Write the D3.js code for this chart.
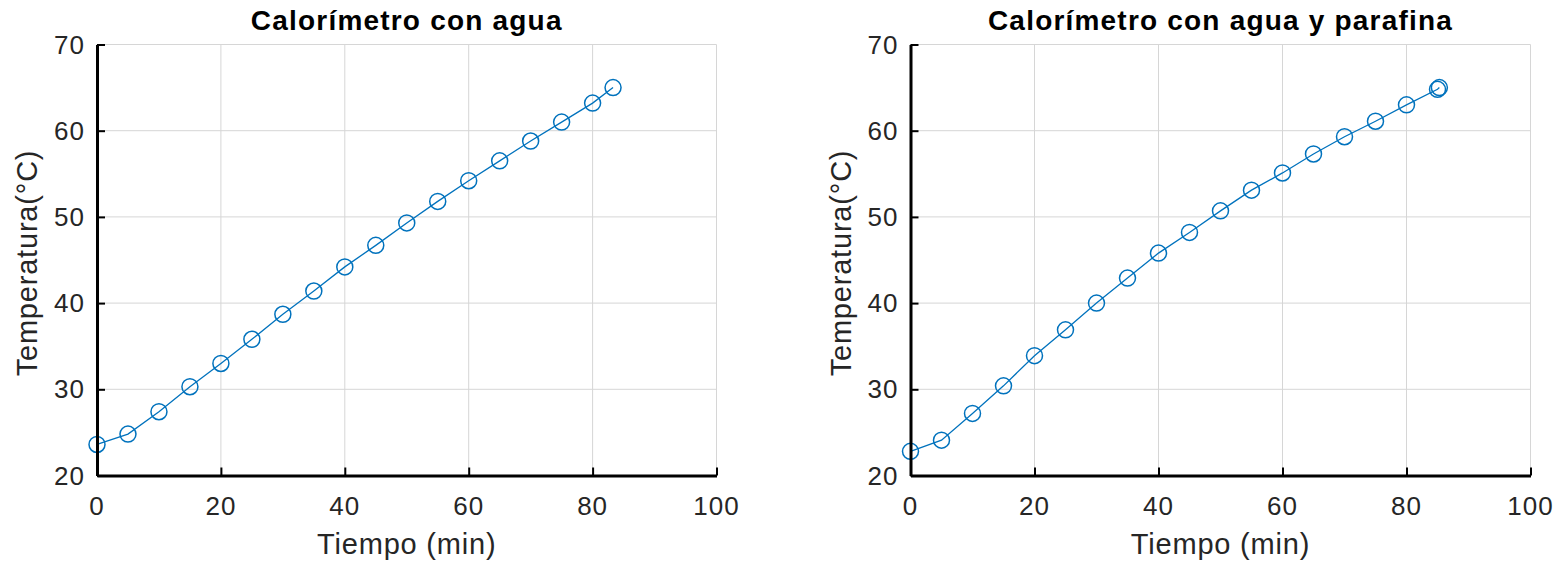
<!DOCTYPE html>
<html>
<head>
<meta charset="utf-8">
<script src="https://cdn.jsdelivr.net/npm/d3@7"></script>
<style>
  body { margin: 0; background: #fff; }
  svg { display: block; font-family: "Liberation Sans", Arial, Helvetica, sans-serif; }
  .grid line { stroke: #d6d6d6; stroke-width: 1; }
  .tick-label { fill: #262626; font-size: 26px; letter-spacing: 1px; }
  .axis-label { fill: #262626; font-size: 29px; letter-spacing: 0.8px; }
  .title { fill: #000; font-size: 28px; font-weight: bold; letter-spacing: 1.2px; }
</style>
</head>
<body>
<svg id="chart" width="1561" height="563"></svg>
<script>
// Datos
const xTicks = [0, 20, 40, 60, 80, 100];
const yTicks = [20, 30, 40, 50, 60, 70];

const tiempoAgua = [0, 5, 10, 15, 20, 25, 30, 35, 40, 45, 50, 55, 60, 65, 70, 75, 80, 83.3];
const tempAgua = [23.6, 24.8, 27.4, 30.3, 33.0, 35.8, 38.7, 41.4, 44.2, 46.7, 49.3, 51.8, 54.2, 56.5, 58.8, 61.0, 63.2, 65.0];

const tiempoParafina = [0, 5, 10, 15, 20, 25, 30, 35, 40, 45, 50, 55, 60, 65, 70, 75, 80, 85, 85.3];
const tempParafina = [22.8, 24.1, 27.2, 30.4, 33.9, 36.9, 40.0, 42.9, 45.8, 48.2, 50.7, 53.1, 55.1, 57.3, 59.3, 61.1, 63.0, 64.8, 65.0];

const panels = [
    { title: 'Calorímetro con agua', x: tiempoAgua, y: tempAgua, left: 97, right: 716.5 },
    { title: 'Calorímetro con agua y parafina', x: tiempoParafina, y: tempParafina, left: 910.5, right: 1530.5 }
];

const plotTop = 44.5, plotBottom = 475.5;
const color = '#0072BD';
const svg = d3.select('#chart');

panels.forEach(p => drawPanel(p));

function drawPanel(p) {
    const x = d3.scaleLinear().domain([0, 100]).range([p.left, p.right]);
    const y = d3.scaleLinear().domain([20, 70]).range([plotBottom, plotTop]);
    const g = svg.append('g');

    // Rejilla
    const grid = g.append('g').attr('class', 'grid');
    grid.selectAll('.gx').data(xTicks).enter().append('line')
        .attr('x1', d => x(d)).attr('x2', d => x(d))
        .attr('y1', plotTop).attr('y2', plotBottom);
    grid.selectAll('.gy').data(yTicks).enter().append('line')
        .attr('x1', p.left).attr('x2', p.right)
        .attr('y1', d => y(d)).attr('y2', d => y(d));

    // Línea y marcadores
    const line = d3.line().x((d, i) => x(p.x[i])).y(d => y(d));
    g.append('path')
        .attr('d', line(p.y))
        .attr('fill', 'none')
        .attr('stroke', color)
        .attr('stroke-width', 1.3);

    g.selectAll('circle').data(p.y).enter().append('circle')
        .attr('cx', (d, i) => x(p.x[i]))
        .attr('cy', d => y(d))
        .attr('r', 8)
        .attr('fill', 'none')
        .attr('stroke', color)
        .attr('stroke-width', 1.5);

    // Ejes (ticks hacia dentro)
    const xAxis = g.append('g')
        .attr('transform', `translate(0,${plotBottom})`)
        .call(d3.axisBottom(x).tickValues(xTicks).tickSizeInner(-8).tickSizeOuter(0).tickFormat(''));
    const yAxis = g.append('g')
        .attr('transform', `translate(${p.left},0)`)
        .call(d3.axisLeft(y).tickValues(yTicks).tickSizeInner(-8).tickSizeOuter(0).tickFormat(''));
    [xAxis, yAxis].forEach(a => {
        a.select('.domain').attr('stroke', '#000').attr('stroke-width', 3);
        a.selectAll('.tick line').attr('stroke', '#000').attr('stroke-width', 2);
    });

    // Etiquetas de ticks
    g.selectAll('.xl').data(xTicks).enter().append('text')
        .attr('class', 'tick-label')
        .attr('x', d => x(d)).attr('y', 515)
        .attr('text-anchor', 'middle')
        .text(d => d);
    g.selectAll('.yl').data(yTicks).enter().append('text')
        .attr('class', 'tick-label')
        .attr('x', p.left - 12).attr('y', d => y(d) + 9)
        .attr('text-anchor', 'end')
        .text(d => d);

    // Títulos
    const cx = (p.left + p.right) / 2;
    g.append('text').attr('class', 'title')
        .attr('x', cx).attr('y', 30)
        .attr('text-anchor', 'middle')
        .text(p.title);
    g.append('text').attr('class', 'axis-label')
        .attr('x', cx).attr('y', 554)
        .attr('text-anchor', 'middle')
        .text('Tiempo (min)');
    g.append('text').attr('class', 'axis-label')
        .attr('transform', `translate(${p.left - 60},263) rotate(-90)`)
        .attr('text-anchor', 'middle')
        .text('Temperatura(°C)');
}
</script>
</body>
</html>
